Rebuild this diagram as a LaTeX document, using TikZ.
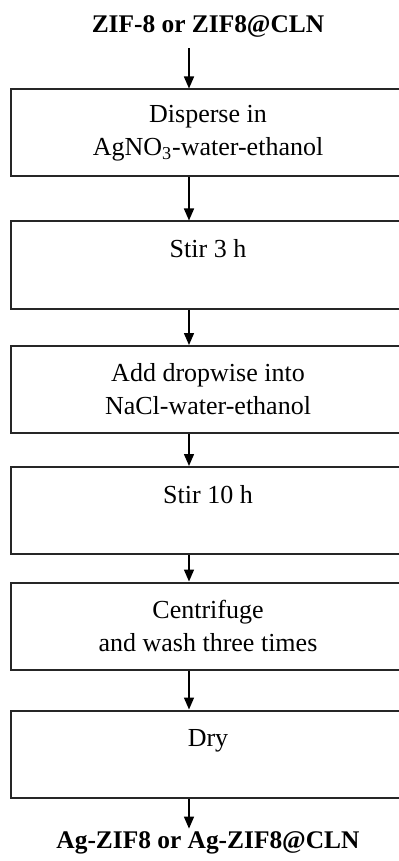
\documentclass[tikz,border=0pt]{standalone}
\usepackage{fontspec}
\setmainfont{Liberation Serif}
\usetikzlibrary{arrows.meta}

\begin{document}
\begin{tikzpicture}[x=0.5pt,y=-0.5pt,
        >={Triangle[width=5pt,length=6pt]},
        stepbox/.style={shape=rectangle,draw=black!85,line width=1pt,
            minimum width=197pt,minimum height=43.5pt,align=center,
            font=\fontsize{13pt}{16.5pt}\selectfont},
        heading/.style={inner sep=1pt,text height=8.5pt,text depth=6.5pt,
            font=\fontsize{12.7pt}{15pt}\selectfont\bfseries}]
            \useasboundingbox (0,0) rectangle (398,861);
            \coordinate (ax) at (189,0);

            \node[heading,anchor=base] (start) at (208,33) {ZIF-8 or ZIF8@CLN};
            \node[stepbox] (disperse) at (208,133) {Disperse in\\AgNO\textsubscript{3}-water-ethanol};
            \node[stepbox] (stirA) at (208,265) {Stir 3 h\\~};
            \node[stepbox] (drop) at (208,389.5) {Add dropwise into\\NaCl-water-ethanol};
            \node[stepbox] (stirB) at (208,510.5) {Stir 10 h\\~};
            \node[stepbox] (centri) at (208,626) {Centrifuge\\and wash three times};
            \node[stepbox] (dry) at (208,754) {Dry\\~};
            \node[heading,anchor=base] (product) at (208,848) {Ag-ZIF8 or Ag-ZIF8@CLN};

            \path [->,line width=0.75pt] (start.south -| ax) edge (disperse.north -| ax);
            \path [->,line width=0.75pt] (disperse.south -| ax) edge (stirA.north -| ax);
            \path [->,line width=0.75pt] (stirA.south -| ax) edge (drop.north -| ax);
            \path [->,line width=0.75pt] (drop.south -| ax) edge (stirB.north -| ax);
            \path [->,line width=0.75pt] (stirB.south -| ax) edge (centri.north -| ax);
            \path [->,line width=0.75pt] (centri.south -| ax) edge (dry.north -| ax);
            \path [->,line width=0.75pt] (dry.south -| ax) edge (product.north -| ax);
        \end{tikzpicture}
\end{document}
